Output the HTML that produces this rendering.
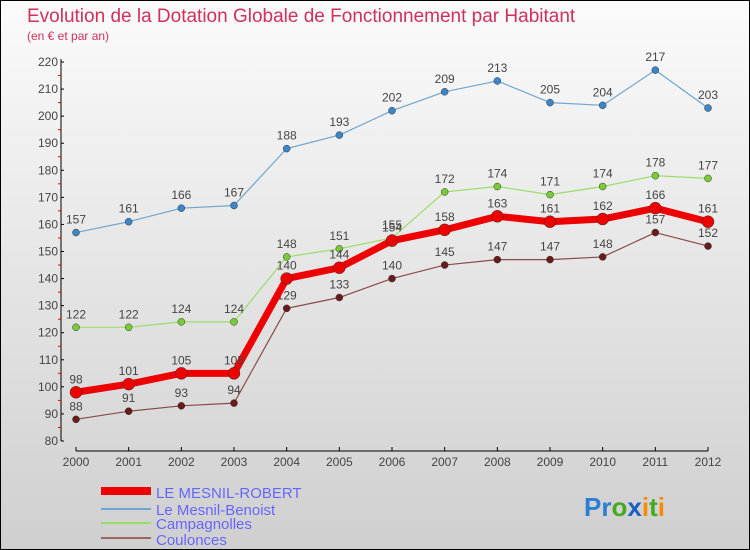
<!DOCTYPE html>
<html><head><meta charset="utf-8"><style>
body{margin:0}
#c{width:750px;height:550px;position:relative;overflow:hidden;box-sizing:border-box;border:1px solid #000;background:linear-gradient(#fbfbfb,#cfcfcf);font-family:"Liberation Sans",sans-serif}
</style></head><body>
<div id="c">
<svg id="s" width="750" height="550" style="position:absolute;left:0;top:0">
<text x="26" y="21" font-size="19" fill="#d0305a">Evolution de la Dotation Globale de Fonctionnement par Habitant</text>
<text x="26" y="39" font-size="12" fill="#d0305a">(en € et par an)</text>
<g id="axes"></g><g id="series"></g>
<g>
<rect x="100" y="486" width="50" height="8" fill="#e00"/>
<text x="155" y="497" font-size="15" fill="#6666ff">LE MESNIL-ROBERT</text>
<rect x="100" y="507" width="50" height="2" fill="#6fa5d0"/>
<text x="155" y="514" font-size="15" fill="#6666ff">Le Mesnil-Benoist</text>
<rect x="100" y="521" width="50" height="2" fill="#99dd66"/>
<text x="155" y="528" font-size="15" fill="#6666ff">Campagnolles</text>
<rect x="100" y="536" width="50" height="2" fill="#996666"/>
<text x="155" y="544" font-size="15" fill="#6666ff">Coulonces</text>
</g>
<text x="583" y="515" font-size="26" font-weight="bold"><tspan fill="#2a7fd4">Pr</tspan><tspan fill="#44aa22">o</tspan><tspan fill="#1a5fc4">x</tspan><tspan fill="#ff8800">i</tspan><tspan fill="#44aa22">t</tspan><tspan fill="#ff8800">i</tspan></text>
</svg>
</div>
<script>
const years=[2000,2001,2002,2003,2004,2005,2006,2007,2008,2009,2010,2011,2012];
const robert=[98,101,105,105,140,144,154,158,163,161,162,166,161];
const benoist=[157,161,166,167,188,193,202,209,213,205,204,217,203];
const campagnolles=[122,122,124,124,148,151,155,172,174,171,174,178,177];
const coulonces=[88,91,93,94,129,133,140,145,147,147,148,157,152];
const yTicks=[80,90,100,110,120,130,140,150,160,170,180,190,200,210,220];
const NS="http://www.w3.org/2000/svg";
const xs=i=>75+i*(707-75)/12;
const ys=v=>440-(v-80)*(440-61)/140;
function mk(p,t,a){const e=document.createElementNS(NS,t);for(const k in a)e.setAttribute(k,a[k]);p.appendChild(e);return e;}
const ax=document.getElementById('axes');
let e=mk(ax,'line',{x1:60,y1:58,x2:60,y2:440,stroke:'#000'});


e=mk(ax,'line',{x1:75,y1:450,x2:707,y2:450,stroke:'#000'});


yTicks.forEach(v=>{
 mk(ax,'line',{x1:60,y1:ys(v),x2:63,y2:ys(v),stroke:'#000'});
 if(v<220) mk(ax,'line',{x1:57,y1:ys(v+5),x2:60,y2:ys(v+5),stroke:'#e00'});
 const t=mk(ax,'text',{x:57,y:ys(v)+4,'font-size':12,fill:'#444','text-anchor':'end'});
 t.textContent=v;
 
 
});
years.forEach((y,i)=>{
 mk(ax,'line',{x1:xs(i),y1:446,x2:xs(i),y2:450,stroke:'#000'});
 const t=mk(ax,'text',{x:xs(i),y:465,'font-size':12,fill:'#444','text-anchor':'middle'});
 t.textContent=y;
 
 
});
const sg=document.getElementById('series');
function series(data,name,col,dot,w,r){
 const g=mk(sg,'g',{});
 
 
 const l=mk(g,'polyline',{points:data.map((v,i)=>xs(i)+','+ys(v)).join(' '),fill:'none',stroke:col,'stroke-width':w,'stroke-linejoin':'round'});
 
 
 data.forEach((v,i)=>{
  const c=mk(g,'circle',{cx:xs(i),cy:ys(v),r:r,fill:dot,stroke:'#333','stroke-width':0.5});
  
  
  const t=mk(g,'text',{x:xs(i),y:ys(v)-9,'font-size':12,fill:'#444','text-anchor':'middle'});
  t.textContent=v;
  
  
 });
}
series(benoist,'le-mesnil-benoist','#6fa5d0','#3a86c8',1.2,3.5);
series(campagnolles,'campagnolles','#99dd66','#77cc33',1.2,3.5);
series(coulonces,'coulonces','#8a4a4a','#6a1a1a',1.2,3.5);
series(robert,'le-mesnil-robert','#ee0000','#ee0000',7,6);
</script>
</body></html>
